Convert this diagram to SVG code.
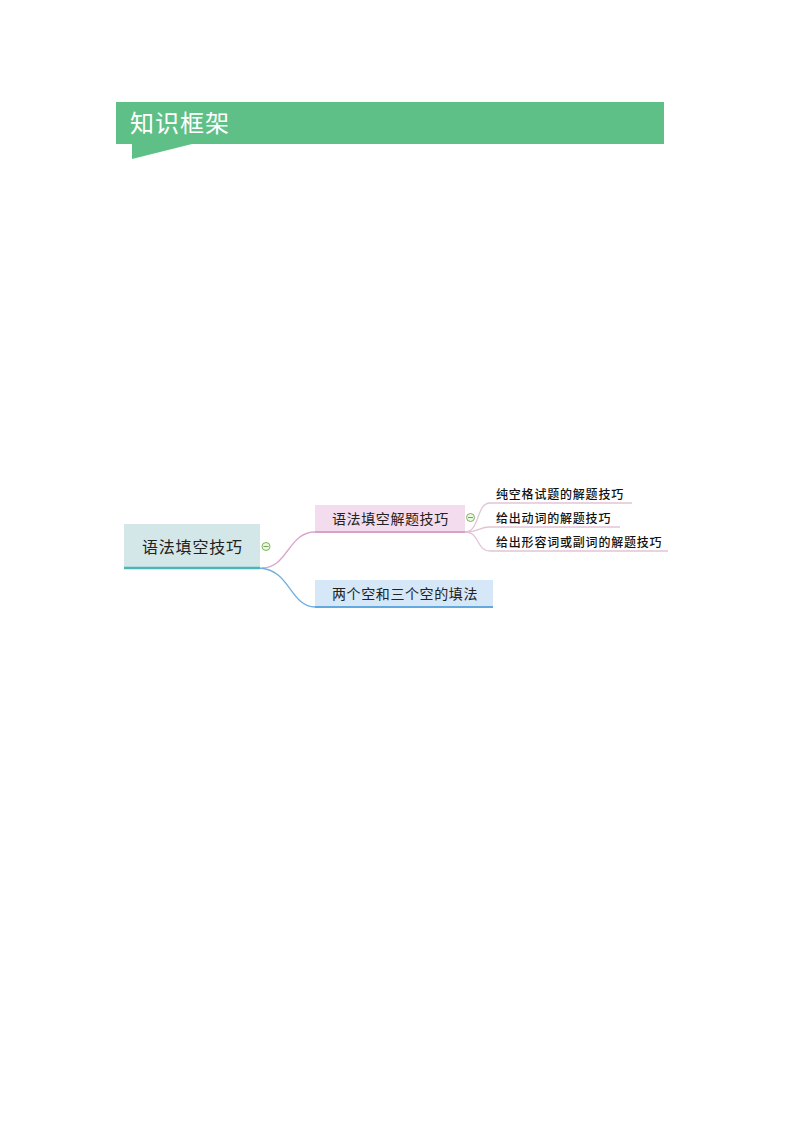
<svg xmlns="http://www.w3.org/2000/svg" width="794" height="1123" viewBox="0 0 794 1123">
<style>
.t{font-family:"Noto Sans CJK SC","Noto Sans",sans-serif;fill:#222222}
.root{font-size:16px;letter-spacing:0.8px}
.sub{font-size:14px;letter-spacing:0.6px}
.leaf{font-size:12px;letter-spacing:0.8px;font-weight:500;fill:#111111}
.conn{fill:none;stroke-width:1.3}
.toggle{fill:#eef6e4;stroke:#7ab55c;stroke-width:1}
</style>
<rect width="794" height="1123" fill="#ffffff"/>
<g id="header">
<polygon points="116,102 664,102 664,144 192,144 132,159 132,144 116,144" fill="#5fc087"/>
<text x="130" y="132" font-family="Noto Sans CJK SC,sans-serif" font-size="24" fill="#ffffff" letter-spacing="1">知识框架</text>
</g>
<g id="connectors">
<path class="conn" d="M262,568 C288,568 288,532 315,532" stroke="#dba6cc"/>
<path class="conn" d="M258,568 C290,568 290,607 315,607" stroke="#6eaee0" stroke-width="1.6"/>
<path class="conn" d="M465,532 C480,532 476,503 490,503 L632,503" stroke="#e3c3d6" stroke-width="1"/>
<path class="conn" d="M465,532 C480,532 478,527 490,527 L620,527" stroke="#e3c3d6" stroke-width="1"/>
<path class="conn" d="M465,532 C480,532 476,551 490,551 L668,551" stroke="#e3c3d6" stroke-width="1"/>
</g>
<g id="root">
<rect x="124" y="524" width="136" height="44" fill="#d3e7e9"/>
<line x1="124" y1="568" x2="260" y2="568" stroke="#4db5b6" stroke-width="2.5"/>
<text class="t root" x="142" y="553">语法填空技巧</text>
<circle class="toggle" cx="266" cy="546.5" r="4"/>
<line x1="263.5" y1="546.5" x2="268.5" y2="546.5" stroke="#6aa84f" stroke-width="1"/>
</g>
<g id="node-jieti">
<rect x="315" y="505" width="150" height="27" fill="#f3dced"/>
<line x1="315" y1="532" x2="465" y2="532" stroke="#d6a2c6" stroke-width="2"/>
<text class="t sub" x="332" y="524">语法填空解题技巧</text>
<circle class="toggle" cx="470.5" cy="517.5" r="4"/>
<line x1="468" y1="517.5" x2="473" y2="517.5" stroke="#6aa84f" stroke-width="1"/>
</g>
<g id="node-liangge">
<rect x="315" y="580" width="178" height="27" fill="#d6e7f8"/>
<line x1="315" y1="607" x2="493" y2="607" stroke="#62a9e0" stroke-width="2"/>
<text class="t sub" x="332" y="599">两个空和三个空的填法</text>
</g>
<g id="leaf-1">
<text class="t leaf" x="496" y="499">纯空格试题的解题技巧</text>
</g>
<g id="leaf-2">
<text class="t leaf" x="496" y="523">给出动词的解题技巧</text>
</g>
<g id="leaf-3">
<text class="t leaf" x="496" y="547">给出形容词或副词的解题技巧</text>
</g>
</svg>
